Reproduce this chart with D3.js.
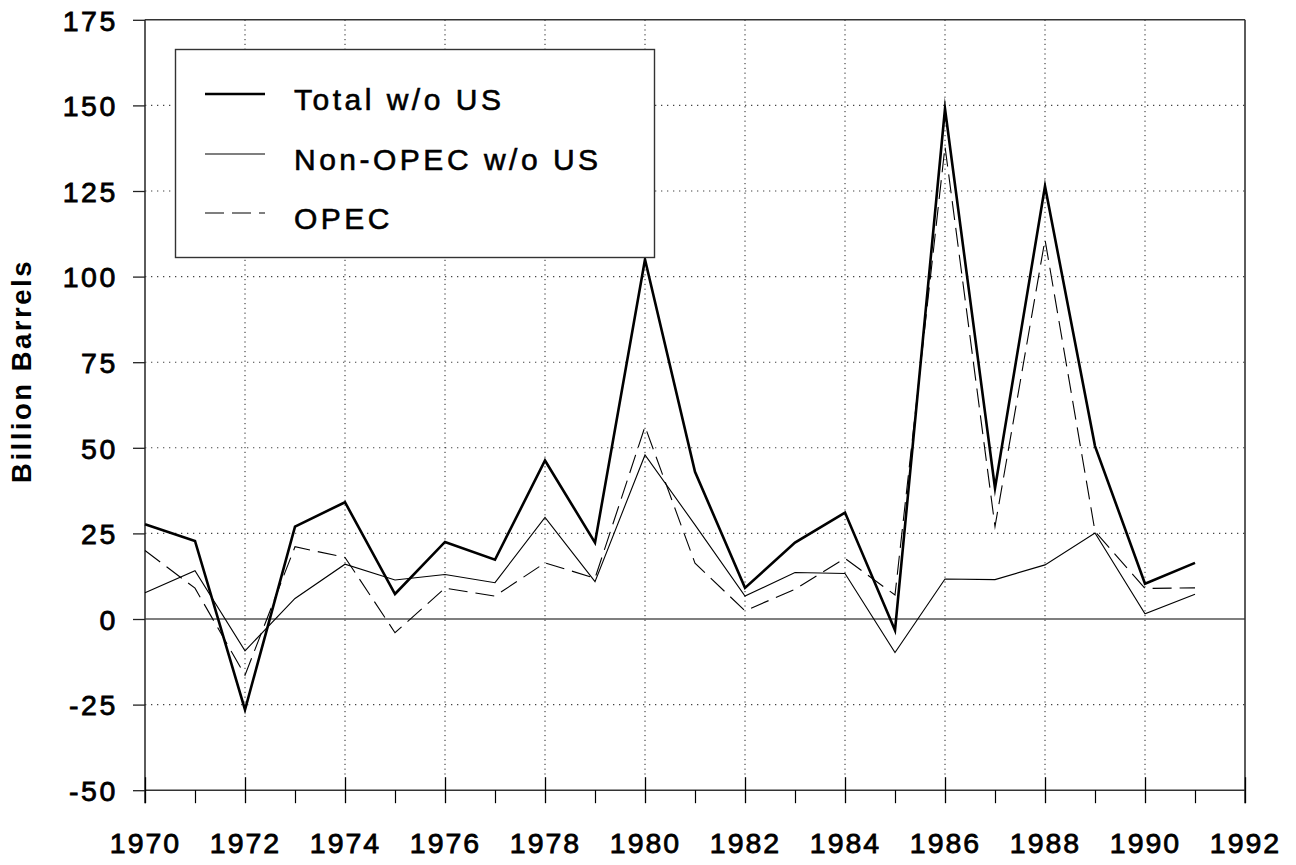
<!DOCTYPE html>
<html>
<head>
<meta charset="utf-8">
<script src="https://cdn.jsdelivr.net/npm/d3@7"></script>
<style>
  html, body { margin: 0; padding: 0; background: #fff; }
  svg { display: block; }
  text { font-family: "Liberation Sans", Arial, sans-serif; fill: #000; }
</style>
</head>
<body>
<svg id="chart" width="1296" height="865"></svg>
<script>
const years = [1970,1971,1972,1973,1974,1975,1976,1977,1978,1979,1980,1981,1982,1983,1984,1985,1986,1987,1988,1989,1990,1991];
const totalWoUS = [27.7,22.8,-26.5,27.0,34.1,7.3,22.5,17.3,46.3,22.3,105,43.0,9.1,22.3,31.1,-3.3,149,38.2,126.4,50.5,10.3,16.4];
const nonOpecWoUS = [7.7,14.1,-9.3,6.0,16.0,11.4,13.0,10.6,29.7,10.9,47.9,27.5,6.7,13.6,13.3,-9.8,11.7,11.5,15.8,25.1,1.5,7.2];
const opec = [20.0,9.0,-16.4,21.1,18.0,-4.0,9.0,6.7,16.4,11.9,56.2,16.3,2.4,8.7,17.7,7.0,138,27.0,110.8,25.6,8.9,9.1];
const seriesNames = ["Total w/o US", "Non-OPEC w/o US", "OPEC"];
const yTicks = [-50,-25,0,25,50,75,100,125,150,175];
const xMajorTicks = [1970,1972,1974,1976,1978,1980,1982,1984,1986,1988,1990,1992];
const xMinorTicks = [1971,1973,1975,1977,1979,1981,1983,1985,1987,1989,1991];
const yTitle = "Billion Barrels";

const svg = d3.select("#chart");
const L = 145, R = 1245, T = 19.8, B = 790.2;
const x = d3.scaleLinear().domain([1970, 1992]).range([L, R]);
const y = d3.scaleLinear().domain([-50, 175]).range([B, T]);

const styles = [
  { w: 2.6, dash: null },
  { w: 1.1, dash: null },
  { w: 1.1, dash: "19,8" }
];
const data = [totalWoUS, nonOpecWoUS, opec];

// gridlines
const grid = svg.append("g");
grid.selectAll("line.h").data(yTicks.filter(v => v !== 0 && v !== -50 && v !== 175)).enter()
  .append("line")
  .attr("x1", L).attr("x2", R)
  .attr("y1", d => y(d)).attr("y2", d => y(d))
  .attr("stroke", "#444").attr("stroke-width", 1.1)
  .attr("stroke-dasharray", "1.3,4.7");
grid.selectAll("line.v").data(xMajorTicks.filter(v => v !== 1970 && v !== 1992)).enter()
  .append("line")
  .attr("x1", d => x(d)).attr("x2", d => x(d))
  .attr("y1", T).attr("y2", B - 13)
  .attr("stroke", "#222").attr("stroke-width", 1)
  .attr("stroke-dasharray", "1.2,3.6");

// zero line
svg.append("line").attr("x1", L).attr("x2", R).attr("y1", y(0)).attr("y2", y(0))
  .attr("stroke", "#000").attr("stroke-width", 1.2);

// frame
svg.append("line").attr("x1", L).attr("x2", R).attr("y1", T).attr("y2", T).attr("stroke", "#333").attr("stroke-width", 1.6);
svg.append("line").attr("x1", L).attr("x2", R).attr("y1", B).attr("y2", B).attr("stroke", "#333").attr("stroke-width", 1.6);
svg.append("line").attr("x1", L).attr("x2", L).attr("y1", T).attr("y2", B + 13).attr("stroke", "#333").attr("stroke-width", 1.6);
svg.append("line").attr("x1", R).attr("x2", R).attr("y1", T).attr("y2", B + 13).attr("stroke", "#333").attr("stroke-width", 1.6);

// y axis
const yAxis = d3.axisLeft(y).tickValues(yTicks).tickSize(12).tickPadding(15)
  .tickFormat(d => d < 0 ? "-" + Math.abs(d) : String(d));
const gy = svg.append("g").attr("transform", `translate(${L},0)`).call(yAxis);
gy.select(".domain").remove();
gy.selectAll(".tick line").attr("stroke", "#222").attr("stroke-width", 1.3);
gy.selectAll(".tick text").attr("font-size", 28.5).attr("letter-spacing", "2.6px")
  .attr("font-family", "Liberation Sans, Arial, sans-serif").attr("fill", "#000")
  .attr("stroke", "#000").attr("stroke-width", 0.8).attr("dy", "0.36em");

// x axis
const xAxis = d3.axisBottom(x).tickValues(xMajorTicks).tickSize(13).tickPadding(30).tickFormat(d3.format("d"));
const gx = svg.append("g").attr("transform", `translate(0,${B})`).call(xAxis);
gx.select(".domain").remove();
gx.selectAll(".tick line").attr("y1", -13).attr("stroke", "#000").attr("stroke-width", 1.3);
gx.selectAll(".tick text").attr("font-size", 28.5).attr("letter-spacing", "2px")
  .attr("font-family", "Liberation Sans, Arial, sans-serif").attr("fill", "#000")
  .attr("stroke", "#000").attr("stroke-width", 0.8).attr("dy", "0.71em");
const gxm = svg.append("g").attr("transform", `translate(0,${B})`)
  .call(d3.axisBottom(x).tickValues(xMinorTicks).tickSize(13).tickFormat(""));
gxm.select(".domain").remove();
gxm.selectAll(".tick line").attr("stroke", "#000").attr("stroke-width", 1.2);

// series lines
const line = d3.line().x((d, i) => x(years[i])).y(d => y(d));
data.forEach((s, k) => {
  svg.append("path").datum(s)
    .attr("d", line)
    .attr("fill", "none")
    .attr("stroke", "#000")
    .attr("stroke-width", styles[k].w)
    .attr("stroke-linejoin", "miter")
    .attr("stroke-miterlimit", 10)
    .attr("stroke-dasharray", styles[k].dash);
});

// legend
const lg = svg.append("g");
lg.append("rect").attr("x", 175.5).attr("y", 49.5).attr("width", 479).attr("height", 208)
  .attr("fill", "#fff").attr("stroke", "#333").attr("stroke-width", 1.4);
const rowY = [94, 154, 213];
seriesNames.forEach((name, k) => {
  lg.append("line").attr("x1", 205).attr("x2", 265).attr("y1", rowY[k]).attr("y2", rowY[k])
    .attr("stroke", "#000").attr("stroke-width", styles[k].w)
    .attr("stroke-dasharray", styles[k].dash);
  lg.append("text").attr("x", 294).attr("y", rowY[k] + 16)
    .attr("font-size", 30).attr("letter-spacing", "3.5px")
    .attr("stroke", "#000").attr("stroke-width", 0.6)
    .text(name);
});

// y title
svg.append("text")
  .attr("transform", `translate(31,371) rotate(-90)`)
  .attr("text-anchor", "middle")
  .attr("font-size", 27.5).attr("font-weight", "bold").attr("letter-spacing", "2.5px")
  .text(yTitle);
</script>
</body>
</html>
